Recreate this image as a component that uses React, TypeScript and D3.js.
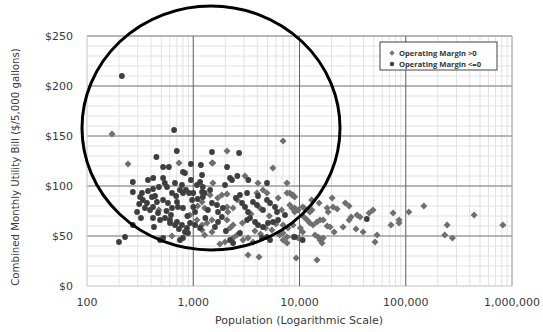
import React from 'react';
import * as d3 from 'd3';

// [population, combined monthly bill] per utility
const marginPositive: [number, number][] = [
  [172, 152], [243, 122], [734, 123], [1530, 123], [2080, 135], [5620, 118], [7000, 145],
  [1530, 103], [3070, 110], [4070, 103], [1440, 91], [1860, 91], [2080, 92], [3980, 93],
  [4530, 96], [4945, 93], [7630, 93], [8500, 91], [1210, 84], [1280, 78], [2080, 79],
  [2120, 74], [2370, 78], [4240, 78], [8100, 81], [9000, 78], [1084, 66], [1210, 61],
  [1346, 63], [1500, 66], [2080, 66], [2220, 58], [2370, 61], [7000, 61], [7800, 58],
  [8700, 61], [1210, 56], [1280, 51], [1500, 54], [2940, 46], [3280, 48], [3650, 44],
  [7000, 46], [7630, 43], [8700, 49], [9700, 48], [3280, 31], [4160, 29], [9300, 28],
  [14600, 26], [7630, 103], [8100, 93], [8700, 91], [9000, 89], [8500, 78], [9000, 74],
  [9700, 76], [10700, 79], [11100, 78], [12500, 74], [13100, 76], [15300, 83], [20300, 88],
  [18200, 78], [18600, 74], [20700, 79], [22600, 77], [27000, 83], [29300, 80], [34800, 71],
  [37200, 69], [30600, 69], [29300, 66], [45200, 73], [49200, 76], [25700, 59], [34000, 57],
  [39700, 54], [53700, 51], [51400, 44], [76000, 73], [72700, 61], [86500, 66], [86500, 63],
  [107000, 74], [148000, 80], [245000, 61], [233000, 51], [275000, 48], [440000, 71],
  [820000, 61], [7000, 53], [7630, 49], [10200, 58], [10700, 54], [11800, 66], [12500, 63],
  [13400, 61], [14000, 51], [15000, 49], [15600, 46], [16300, 43], [16700, 48], [14600, 64],
  [15600, 66], [16700, 66], [18200, 60], [19400, 59], [21200, 54], [1780, 42], [1990, 44],
  [2370, 48], [2580, 51], [475, 76], [631, 50], [933, 71], [6000, 62], [5500, 56], [6500, 51],
  [3800, 55], [4300, 52], [11000, 69], [13000, 86], [1500, 123], [2600, 86], [3500, 72],
  [5200, 70], [6300, 88], [1700, 88], [2900, 63], [1100, 80], [4800, 58], [6800, 76],
];

const marginNegative: [number, number][] = [
  [213, 210], [660, 156], [700, 135], [450, 129], [520, 119], [590, 119], [950, 122],
  [1180, 121], [800, 114], [835, 113], [1210, 111], [1500, 134], [2700, 133], [2080, 119],
  [420, 108], [520, 108], [540, 103], [566, 99], [783, 101], [950, 106], [1160, 104],
  [1230, 99], [2220, 108], [2315, 106], [4945, 103], [270, 104], [270, 94], [329, 93],
  [375, 95], [418, 97], [631, 93], [750, 96], [800, 93], [1000, 93], [1210, 94], [1280, 93],
  [1230, 89], [2750, 91], [3210, 93], [336, 86], [409, 89], [367, 83], [351, 78], [392, 76],
  [418, 79], [520, 86], [578, 83], [631, 78], [703, 84], [718, 79], [800, 78], [975, 86],
  [1000, 79], [1040, 74], [1375, 76], [1500, 83], [1673, 81], [1710, 74], [2877, 83],
  [3070, 79], [3280, 74], [3650, 84], [3980, 81], [4530, 76], [4945, 86], [5280, 83],
  [5880, 79], [6140, 74], [418, 68], [487, 66], [542, 68], [604, 66], [703, 64], [783, 61],
  [873, 58], [933, 63], [1600, 59], [1710, 64], [1860, 69], [3210, 66], [3420, 68],
  [3820, 64], [4070, 61], [4530, 59], [5050, 63], [5630, 64], [6280, 66], [270, 61],
  [427, 59], [487, 46], [520, 48], [750, 46], [800, 48], [892, 53], [2220, 46], [2370, 43],
  [4437, 48], [4945, 49], [5280, 46], [200, 44], [228, 49], [10700, 46], [316, 89],
  [466, 73], [617, 71], [673, 61], [734, 57], [835, 54], [604, 63], [853, 96], [913, 93],
  [1084, 101], [1440, 96], [1990, 101], [2520, 88], [4070, 90], [7300, 71], [1040, 61],
  [1160, 58], [2030, 55], [2750, 53], [375, 106], [475, 99], [673, 103], [296, 74],
  [322, 68], [437, 90], [43000, 67], [9000, 49], [2600, 110], [3300, 106], [310, 82],
  [455, 84], [560, 75], [880, 70], [1300, 68], [1900, 78], [690, 90], [1100, 87],
];

const xMajorTicks = [100, 1000, 10000, 100000, 1000000];
const yTicks = [0, 50, 100, 150, 200, 250];
const legendLabels = ['Operating Margin >0', 'Operating Margin <=0'];

const W = 543;
const H = 332;

export default function App() {
  const x = d3.scaleLog().domain([100, 1000000]).range([87, 512]);
  const y = d3.scaleLinear().domain([0, 250]).range([286, 36]);

  const xMinor = x.ticks();
  const yMinor = d3.range(0, 251, 10);
  const fmt = d3.format(',');

  const diamond = d3.symbol().type(d3.symbolDiamond2).size(32)() as string;
  const diamondSmall = d3.symbol().type(d3.symbolDiamond2).size(18)() as string;

  return (
    <svg width={W} height={H} style={{ position: 'absolute', left: 0, top: 0, background: '#fff' }}
      fontFamily="DejaVu Sans, Verdana, sans-serif">
      {/* minor grid */}
      {yMinor.map(v => (
        <line key={'ym' + v} x1={87} x2={512} y1={y(v)} y2={y(v)} stroke="#e2e2e2" strokeWidth={1} />
      ))}
      {xMinor.map(v => (
        <line key={'xm' + v} x1={x(v)} x2={x(v)} y1={36} y2={286} stroke="#e2e2e2" strokeWidth={1} />
      ))}
      {/* major grid */}
      {yTicks.map(v => (
        <line key={'yM' + v} x1={87} x2={512} y1={y(v)} y2={y(v)}
          stroke={v === 0 ? '#d0d0d0' : '#a2a2a2'} strokeWidth={v === 0 ? 1 : 1.5} />
      ))}
      {xMajorTicks.map(v => (
        <line key={'xM' + v} x1={x(v)} x2={x(v)} y1={36} y2={286}
          stroke={v === 100 ? '#d0d0d0' : v === 1000000 ? '#a2a2a2' : '#666'} strokeWidth={1} />
      ))}

      {/* points */}
      {marginPositive.map((d, i) => (
        <path key={'p' + i} d={diamond} transform={`translate(${x(d[0])},${y(d[1])})`} fill="#6f6f6f" />
      ))}
      {marginNegative.map((d, i) => (
        <circle key={'n' + i} cx={x(d[0])} cy={y(d[1])} r={2.9} fill="#3e3e3e" />
      ))}

      {/* axis labels */}
      {yTicks.map(v => (
        <text key={'yl' + v} x={73} y={y(v) + 4} textAnchor="end" fontSize={11} fill="#3a3a3a">${v}</text>
      ))}
      {xMajorTicks.map(v => (
        <text key={'xl' + v} x={x(v)} y={306} textAnchor="middle" fontSize={11} fill="#3a3a3a">{fmt(v)}</text>
      ))}
      <text x={299} y={324} textAnchor="middle" fontSize={11} fill="#3a3a3a">Population (Logarithmic Scale)</text>
      <text transform="translate(19,167) rotate(-90)" textAnchor="middle" fontSize={10.2} fill="#3a3a3a">
        Combined Monthly Utility Bill ($/5,000 gallons)
      </text>

      {/* legend */}
      <rect x={380} y={42} width={117} height={28} fill="#fff" stroke="#444" strokeWidth={1} />
      <path d={diamondSmall} transform="translate(392,53)" fill="#777" />
      <circle cx={392} cy={64} r={2.2} fill="#3e3e3e" />
      {legendLabels.map((t, i) => (
        <text key={t} x={399} y={56 + i * 11} fontSize={7.6} fontWeight={700}
          fontFamily="Open Sans, sans-serif" fill="#333">{t}</text>
      ))}

      {/* highlight ellipse */}
      <ellipse cx={211} cy={128} rx={129} ry={122} fill="none" stroke="#000" strokeWidth={3} />
    </svg>
  );
}
